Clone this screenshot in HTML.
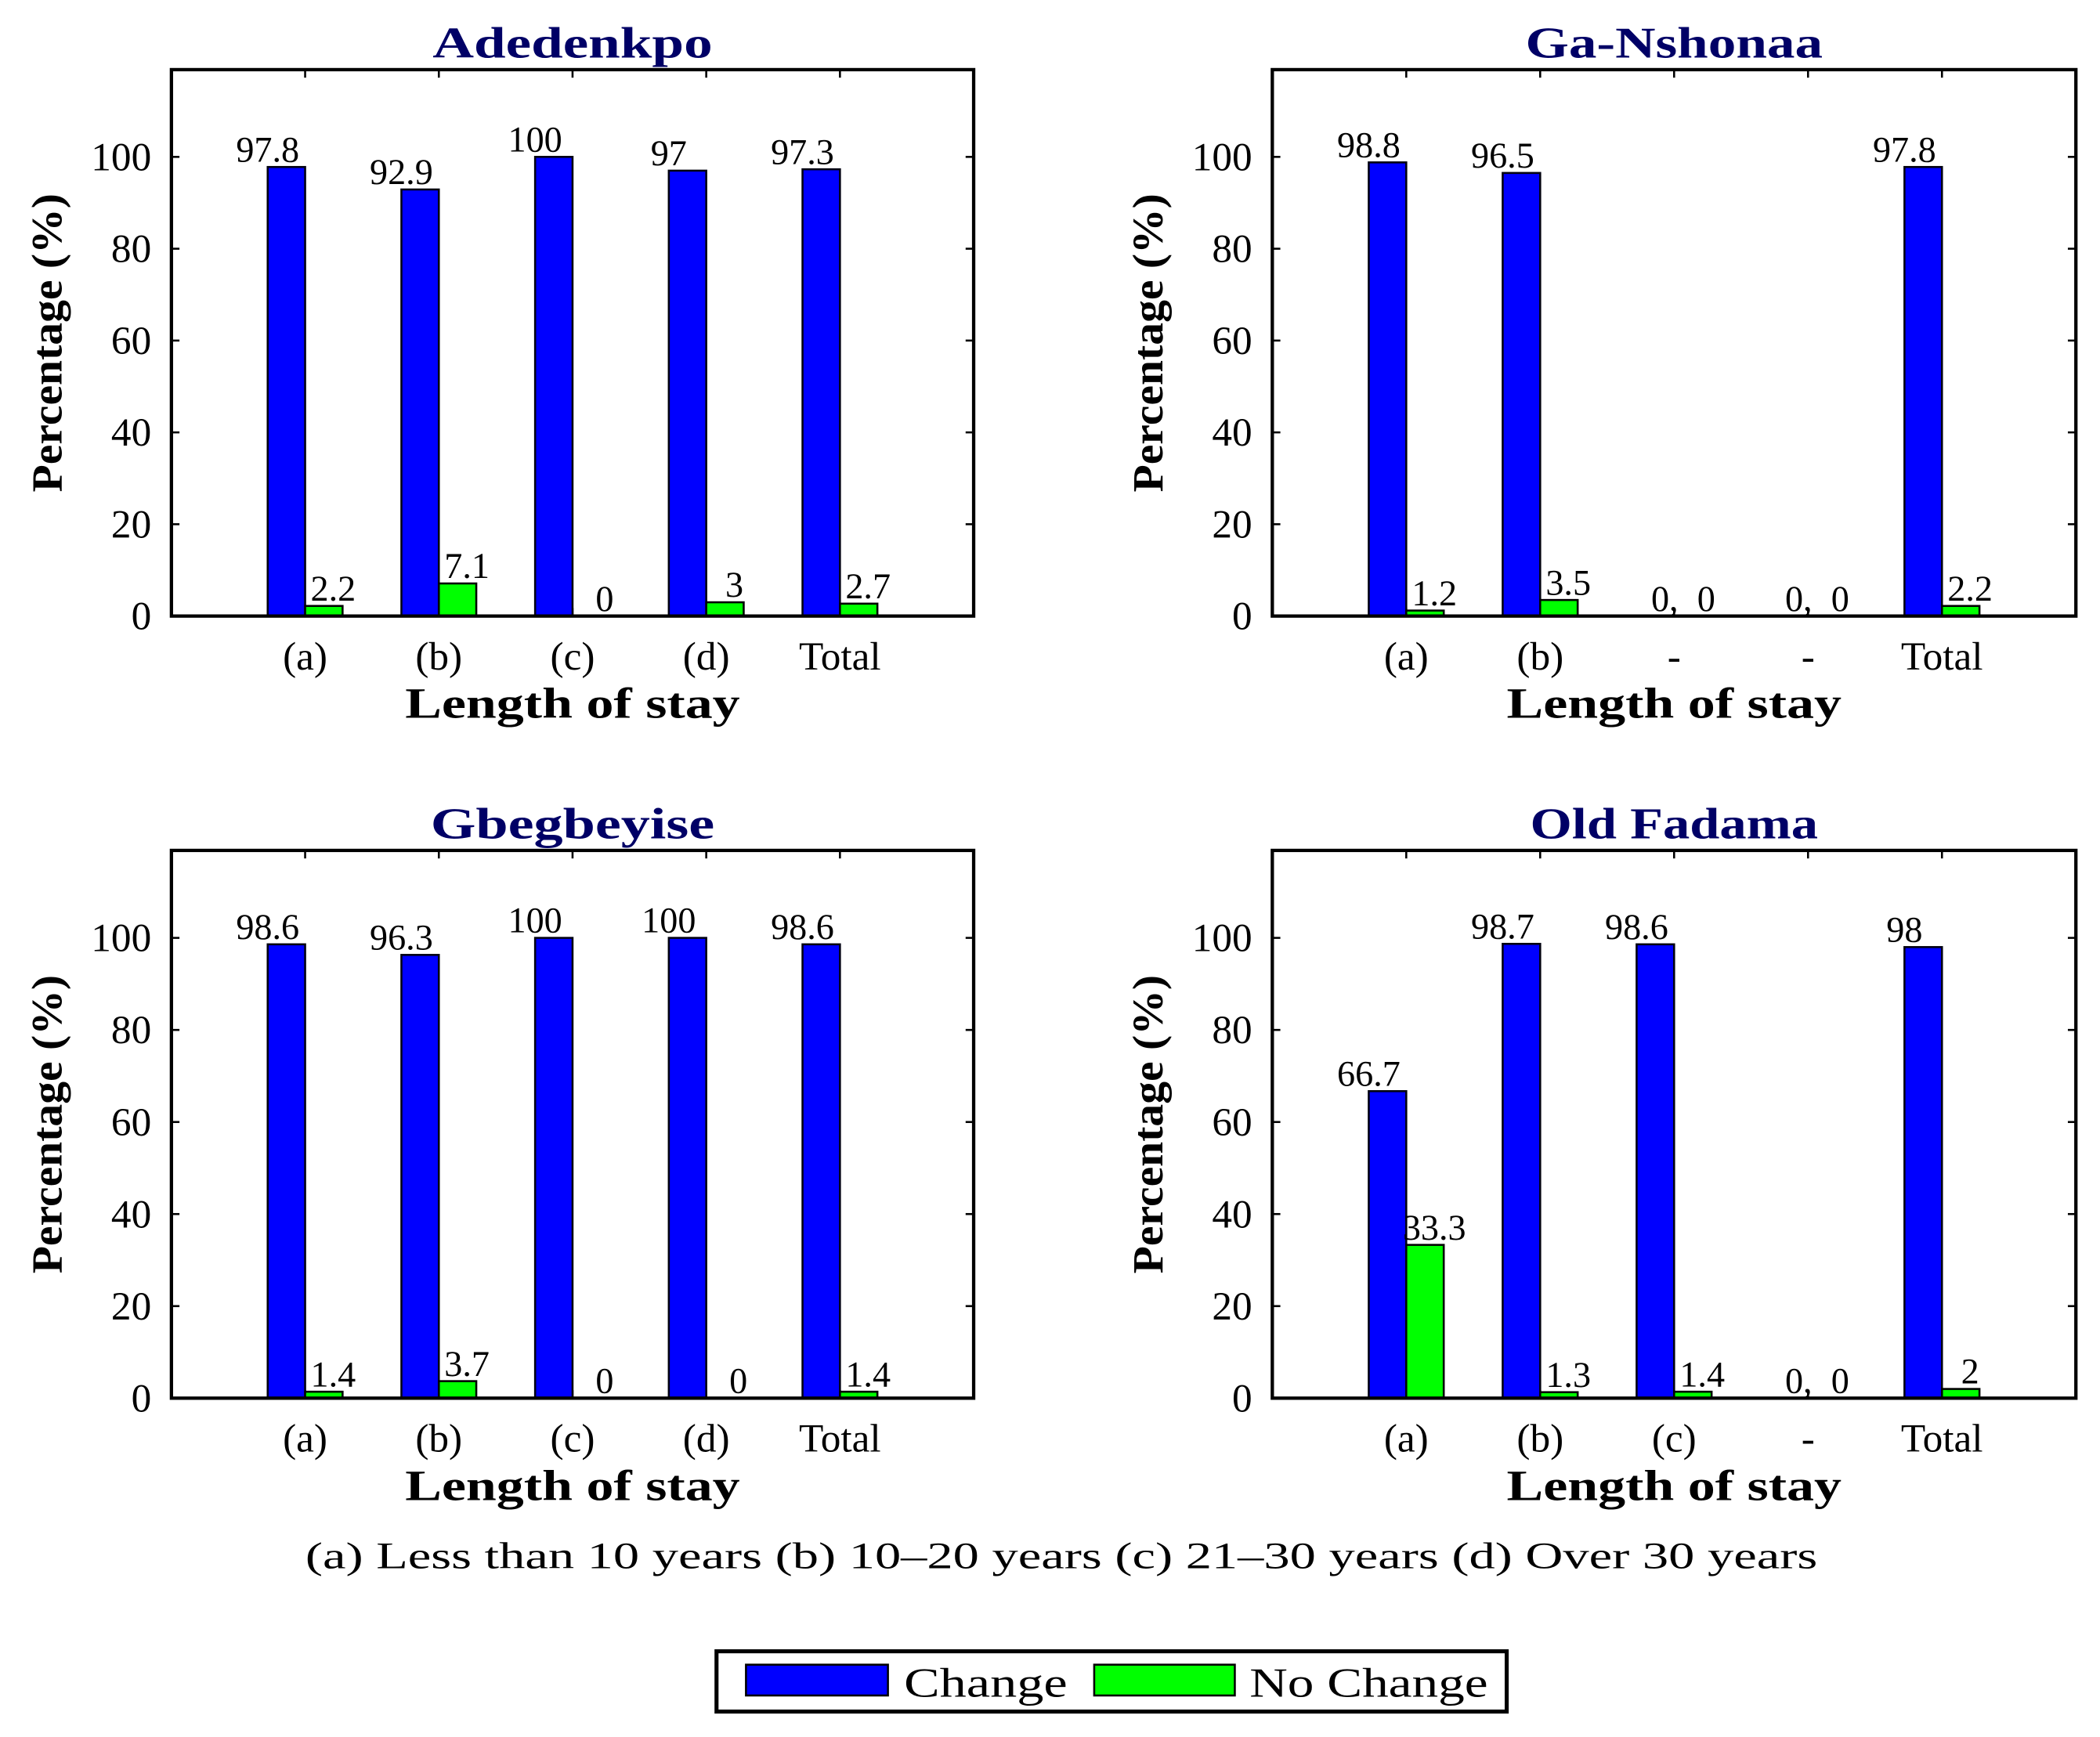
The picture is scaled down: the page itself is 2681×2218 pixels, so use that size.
<!DOCTYPE html>
<html><head><meta charset="utf-8"><style>
html,body{margin:0;padding:0;background:#fff;}
svg{display:block;}
text{font-family:"Liberation Serif",serif;}
</style></head><body>
<svg id="fig" width="2681" height="2218" viewBox="0 0 1568 1297" preserveAspectRatio="none" xmlns="http://www.w3.org/2000/svg">
<g id="panels"></g>
<text x="228" y="1171" font-size="28" textLength="1129" lengthAdjust="spacingAndGlyphs">(a) Less than 10 years (b) 10–20 years (c) 21–30 years (d) Over 30 years</text>
<g>
<rect x="535" y="1233" width="590" height="45" fill="#fff" stroke="#000" stroke-width="3"/>
<rect x="557" y="1243" width="106" height="23" fill="#0000ff" stroke="#000" stroke-width="1.5"/>
<text x="675" y="1267" font-size="31" textLength="122" lengthAdjust="spacingAndGlyphs">Change</text>
<rect x="817" y="1243" width="105" height="23" fill="#00ff00" stroke="#000" stroke-width="1.5"/>
<text x="933" y="1267" font-size="31" textLength="178" lengthAdjust="spacingAndGlyphs">No Change</text>
</g>
</svg>
<script>
const titles = ["Adedenkpo","Ga-Nshonaa","Gbegbeyise","Old Fadama"];
const catsAdedenkpo = ["(a)","(b)","(c)","(d)","Total"];
const catsGaNshonaa = ["(a)","(b)","-","-","Total"];
const catsGbegbeyise = ["(a)","(b)","(c)","(d)","Total"];
const catsOldFadama = ["(a)","(b)","(c)","-","Total"];
const changeAdedenkpo = [97.8,92.9,100,97,97.3];
const noChangeAdedenkpo = [2.2,7.1,0,3,2.7];
const changeGaNshonaa = [98.8,96.5,0,0,97.8];
const noChangeGaNshonaa = [1.2,3.5,0,0,2.2];
const changeGbegbeyise = [98.6,96.3,100,100,98.6];
const noChangeGbegbeyise = [1.4,3.7,0,0,1.4];
const changeOldFadama = [66.7,98.7,98.6,0,98];
const noChangeOldFadama = [33.3,1.3,1.4,0,2];
const yTicks = [0,20,40,60,80,100];

const NS="http://www.w3.org/2000/svg";
const root=document.getElementById('panels');
function mk(tag,attrs,parent){const e=document.createElementNS(NS,tag);for(const k in attrs)e.setAttribute(k,attrs[k]);parent.appendChild(e);return e;}
const panels=[
 {title:titles[0],tw:209,cats:catsAdedenkpo,ch:changeAdedenkpo,nc:noChangeAdedenkpo,L:128,R:727,T:52,B:460,slug:'adedenkpo'},
 {title:titles[1],tw:222,cats:catsGaNshonaa,ch:changeGaNshonaa,nc:noChangeGaNshonaa,L:950,R:1550,T:52,B:460,slug:'ga-nshonaa'},
 {title:titles[2],tw:212,cats:catsGbegbeyise,ch:changeGbegbeyise,nc:noChangeGbegbeyise,L:128,R:727,T:635,B:1044,slug:'gbegbeyise'},
 {title:titles[3],tw:215,cats:catsOldFadama,ch:changeOldFadama,nc:noChangeOldFadama,L:950,R:1550,T:635,B:1044,slug:'old-fadama'}
];
panels.forEach(p=>{
 const g=mk('g',{},root);
 
 
 const pxPerUnit=(p.B-p.T)/119;
 const y=v=>p.B-v*pxPerUnit;
 const x=i=>p.L+(i+1)*(p.R-p.L)/6;
 const bw=0.28*(p.R-p.L)/6;
 yTicks.forEach(t=>{
  const yy=y(t);
  mk('line',{x1:p.L,x2:p.L+6,y1:yy,y2:yy,stroke:'#000','stroke-width':1.5},g);
  mk('line',{x1:p.R-6,x2:p.R,y1:yy,y2:yy,stroke:'#000','stroke-width':1.5},g);
  const tl=mk('text',{x:p.L-15,y:yy+10,'font-size':30,'text-anchor':'end'},g);
  tl.textContent=t;
  
  
 });
 p.cats.forEach((c,i)=>{
  const cx=x(i);
  mk('line',{x1:cx,x2:cx,y1:p.T,y2:p.T+6,stroke:'#000','stroke-width':1.5},g);
  mk('line',{x1:cx,x2:cx,y1:p.B-6,y2:p.B,stroke:'#000','stroke-width':1.5},g);
  const xl=mk('text',{x:cx,y:p.B+40,'font-size':30,'text-anchor':'middle'},g);
  xl.textContent=c;
  
  
  const v1=p.ch[i], v2=p.nc[i];
  if(v1>0){
   const r=mk('rect',{x:cx-bw,y:y(v1),width:bw,height:p.B-y(v1),fill:'#0000ff',stroke:'#000010','stroke-width':1.5},g);
   
   
  }
  if(v2>0){
   const r=mk('rect',{x:cx,y:y(v2),width:bw,height:p.B-y(v2),fill:'#00ff00',stroke:'#000','stroke-width':1.5},g);
   
   
  }
  const l1=mk('text',{x:v1>0?cx-bw/2-14:cx-bw/2+7,y:y(v1)-4,'font-size':27,'text-anchor':'middle'},g);
  l1.textContent=v1>0?v1:'0,';
  
  
  const l2=mk('text',{x:v2>0?cx+bw/2+7:cx+bw/2+10,y:y(v2)-4,'font-size':27,'text-anchor':'middle'},g);
  l2.textContent=v2;
  
  
 });
 const box=mk('rect',{x:p.L,y:p.T,width:p.R-p.L,height:p.B-p.T,fill:'none',stroke:'#000','stroke-width':2.5},g);
 
 
 const t=mk('text',{x:(p.L+p.R)/2,y:p.T-9,'font-size':33,'font-weight':'bold','text-anchor':'middle',fill:'#000066',textLength:p.tw,lengthAdjust:'spacingAndGlyphs'},g);
 t.textContent=p.title;
 
 
 const xt=mk('text',{x:(p.L+p.R)/2,y:p.B+76,'font-size':32,'font-weight':'bold','text-anchor':'middle',textLength:250,lengthAdjust:'spacingAndGlyphs'},g);
 xt.textContent='Length of stay';
 
 
 const cy=(p.T+p.B)/2;
 const yt=mk('text',{x:p.L-82,y:cy,'font-size':32,'font-weight':'bold','text-anchor':'middle',textLength:223,lengthAdjust:'spacingAndGlyphs',transform:`rotate(-90 ${p.L-82} ${cy})`},g);
 yt.textContent='Percentage (%)';
 
 
});
</script>
</body></html>
